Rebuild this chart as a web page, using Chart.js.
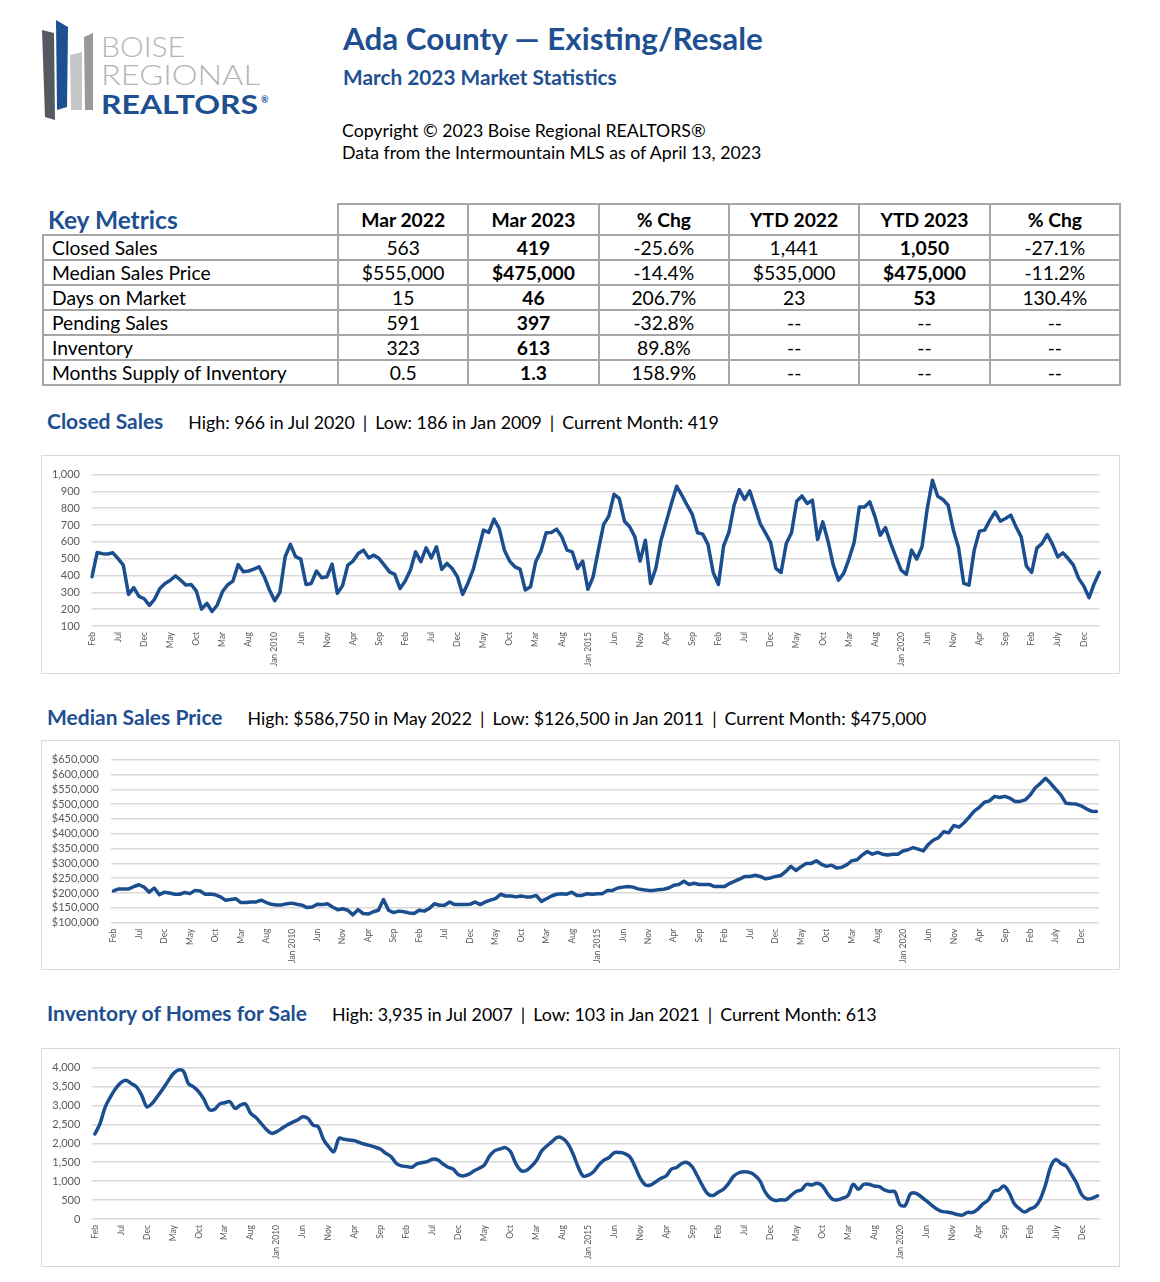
<!DOCTYPE html>
<html>
<head>
<meta charset="utf-8">
<script src="https://cdn.jsdelivr.net/npm/chart.js@4.4.1/dist/chart.umd.min.js"></script>
<style>
  body { margin: 0; width: 1160px; height: 1282px; position: relative; background: #fff; font-family: Lato, 'Open Sans', sans-serif; color: #000; overflow: hidden; }
  .abs { position: absolute; white-space: nowrap; line-height: 1; }
  .title { left: 343px; top: 23px; font-size: 31.4px; font-weight: 700; color: #1d4f91; }
  .subtitle { left: 343px; top: 67px; font-size: 20.8px; font-weight: 700; color: #1d4f91; }
  .note { left: 342px; font-size: 17.7px; }
  .sec { left: 47px; }
  .sec .head { font-size: 21px; font-weight: 700; color: #1d4f91; }
  .sec .stats { font-size: 17.75px; margin-left: 25px; }
  .sec .sep { margin: 0 8px; }
  .box { position: absolute; left: 41px; width: 1079px; border: 1.5px solid #d9d9d9; box-sizing: border-box; }
  canvas { position: absolute; left: 42px; }
  #metrics { position: absolute; left: 42px; top: 203px; border-collapse: collapse; table-layout: fixed; width: 1079px; font-size: 19.3px; }
  #metrics td, #metrics th { border: 2px solid #a6a6a6; padding: 0; text-align: center; white-space: nowrap; }
  #metrics tr.hr { height: 31px; }
  #metrics tr.br { height: 25px; }
  #metrics th { font-weight: 700; }
  #metrics th.km { border-top: hidden; border-left: hidden; text-align: left; padding-left: 5px; font-size: 24.5px; color: #1d4f91; }
  #metrics td.lab { text-align: left; padding-left: 8px; }
  #metrics td.b { font-weight: 700; }
</style>
</head>
<body>

<svg class="abs" style="left:0;top:0" width="300" height="130">
  <polygon points="42,30 54,33 55,120 45,117" fill="#555a60"/>
  <polygon points="56,20 68,27 67,107 57,110" fill="#1d4f91"/>
  <polygon points="70,55 82,52 82,110 71,110" fill="#c4c6c8"/>
  <polygon points="84,37 93,33 93,110 85,110" fill="#97999c"/>
  <text x="101" y="57" font-family="Lato" font-size="27" font-weight="300" fill="#b3b5b7" textLength="84" lengthAdjust="spacingAndGlyphs">BOISE</text>
  <text x="101" y="85" font-family="Lato" font-size="28" font-weight="300" fill="#b3b5b7" textLength="159" lengthAdjust="spacingAndGlyphs">REGIONAL</text>
  <text x="101" y="114" font-family="Lato" font-size="27" font-weight="700" fill="#1d4f91" textLength="157" lengthAdjust="spacingAndGlyphs">REALTORS</text>
  <text x="261" y="103" font-family="Lato" font-size="9" font-weight="700" fill="#1d4f91">®</text>
</svg>

<div class="abs title">Ada County — Existing/Resale</div>
<div class="abs subtitle">March 2023 Market Statistics</div>
<div class="abs note" style="top:122px">Copyright © 2023 Boise Regional REALTORS®</div>
<div class="abs note" style="top:144px">Data from the Intermountain MLS as of April 13, 2023</div>

<table id="metrics">
  <colgroup><col style="width:295px"><col><col><col><col><col><col></colgroup>
  <thead></thead>
  <tbody></tbody>
</table>

<div class="abs sec" style="top:410px"><span class="head">Closed Sales</span><span class="stats">High: 966 in Jul 2020<span class="sep">|</span>Low: 186 in Jan 2009<span class="sep">|</span>Current Month: 419</span></div>
<div class="box" style="top:455px;height:219px"></div>
<canvas id="closedChart" width="1077" height="217" style="top:456px"></canvas>

<div class="abs sec" style="top:706px"><span class="head">Median Sales Price</span><span class="stats">High: $586,750 in May 2022<span class="sep">|</span>Low: $126,500 in Jan 2011<span class="sep">|</span>Current Month: $475,000</span></div>
<div class="box" style="top:740px;height:230px"></div>
<canvas id="priceChart" width="1077" height="228" style="top:741px"></canvas>

<div class="abs sec" style="top:1002px"><span class="head">Inventory of Homes for Sale</span><span class="stats">High: 3,935 in Jul 2007<span class="sep">|</span>Low: 103 in Jan 2021<span class="sep">|</span>Current Month: 613</span></div>
<div class="box" style="top:1048px;height:219px"></div>
<canvas id="invChart" width="1077" height="217" style="top:1049px"></canvas>

<script>
// Tableau des indicateurs
const metricHeaders = ['Key Metrics', 'Mar 2022', 'Mar 2023', '% Chg', 'YTD 2022', 'YTD 2023', '% Chg'];
const metricNames = ['Closed Sales', 'Median Sales Price', 'Days on Market', 'Pending Sales', 'Inventory', 'Months Supply of Inventory'];
const mar2022 = ['563', '$555,000', '15', '591', '323', '0.5'];
const mar2023 = ['419', '$475,000', '46', '397', '613', '1.3'];
const chgMonth = ['-25.6%', '-14.4%', '206.7%', '-32.8%', '89.8%', '158.9%'];
const ytd2022 = ['1,441', '$535,000', '23', '--', '--', '--'];
const ytd2023 = ['1,050', '$475,000', '53', '--', '--', '--'];
const chgYtd = ['-27.1%', '-11.2%', '130.4%', '--', '--', '--'];

// Axe des mois : Feb 2007 -> Mar 2023
const monthNames = ['Jan', 'Feb', 'Mar', 'Apr', 'May', 'Jun', 'Jul', 'Aug', 'Sep', 'Oct', 'Nov', 'Dec'];
const months = [];
for (let y = 2007, m = 1; y < 2023 || m <= 2; m++) {
    if (m === 12) { m = 0; y++; }
    months.push(monthNames[m] + ' ' + y);
}
const tickLabels = ['Feb', 'Jul', 'Dec', 'May', 'Oct', 'Mar', 'Aug', 'Jan 2010', 'Jun', 'Nov',
    'Apr', 'Sep', 'Feb', 'Jul', 'Dec', 'May', 'Oct', 'Mar', 'Aug', 'Jan 2015',
    'Jun', 'Nov', 'Apr', 'Sep', 'Feb', 'Jul', 'Dec', 'May', 'Oct', 'Mar',
    'Aug', 'Jan 2020', 'Jun', 'Nov', 'Apr', 'Sep', 'Feb', 'July', 'Dec'];

const closedSales = [
    393, 537, 530, 528, 535, 500, 462, 288, 328, 276,
    262, 222, 260, 323, 353, 372, 398, 372, 343, 347,
    307, 200, 235, 186, 225, 305, 345, 367, 465, 422,
    427, 438, 452, 393, 314, 250, 300, 512, 585, 512,
    498, 347, 353, 427, 387, 393, 468, 294, 340, 462,
    486, 531, 551, 505, 521, 501, 462, 422, 407, 323,
    367, 433, 541, 482, 565, 505, 571, 436, 472, 442,
    393, 288, 353, 433, 551, 670, 656, 735, 680, 551,
    486, 452, 438, 314, 333, 482, 545, 654, 656, 676,
    630, 551, 541, 442, 486, 318, 393, 551, 703, 753,
    883, 858, 723, 690, 630, 486, 610, 353, 442, 610,
    719, 828, 931, 877, 818, 763, 654, 646, 585, 418,
    347, 577, 656, 818, 911, 852, 903, 808, 709, 654,
    596, 442, 418, 591, 654, 842, 873, 828, 848, 614,
    719, 604, 462, 373, 413, 498, 596, 808, 808, 838,
    749, 640, 685, 591, 511, 432, 407, 551, 498, 571,
    798, 966, 871, 852, 818, 670, 565, 353, 343, 551,
    664, 670, 729, 778, 723, 739, 759, 690, 630, 456,
    418, 563, 591, 644, 585, 511, 535, 501, 462, 383,
    337, 268, 353, 419
];

const medianPrice = [
    207000, 214000, 214000, 214000, 222000, 228000, 220000, 203000, 217000, 194000,
    203000, 200000, 196000, 196000, 202000, 198000, 209000, 207000, 196000, 197000,
    194000, 187000, 176000, 178000, 181000, 168000, 168000, 170000, 170000, 176000,
    168000, 162000, 160000, 160000, 164000, 166000, 162000, 159000, 151000, 153000,
    162000, 161000, 164000, 153000, 144000, 147000, 142000, 126500, 144000, 131000,
    129000, 137000, 142000, 178000, 142000, 134000, 139000, 137000, 133000, 131000,
    142000, 139000, 148000, 164000, 159000, 159000, 170000, 161000, 161000, 161000,
    162000, 170000, 161000, 170000, 176000, 181000, 196000, 190000, 190000, 187000,
    190000, 187000, 187000, 192000, 172000, 181000, 190000, 196000, 198000, 196000,
    203000, 192000, 192000, 198000, 196000, 198000, 198000, 209000, 209000, 217000,
    220000, 222000, 220000, 214000, 211000, 209000, 209000, 211000, 213000, 217000,
    226000, 229000, 240000, 229000, 233000, 229000, 229000, 229000, 222000, 222000,
    222000, 233000, 240000, 248000, 256000, 256000, 260000, 256000, 248000, 251000,
    256000, 259000, 273000, 290000, 276000, 289000, 300000, 300000, 309000, 297000,
    290000, 294000, 284000, 287000, 296000, 309000, 312000, 328000, 340000, 331000,
    337000, 331000, 328000, 331000, 331000, 342000, 346000, 353000, 348000, 342000,
    364000, 379000, 387000, 407000, 403000, 428000, 422000, 437000, 456000, 476000,
    489000, 506000, 511000, 526000, 522000, 526000, 520000, 509000, 509000, 514000,
    531000, 555000, 570000, 586750, 570000, 550000, 531000, 503000, 501000, 500000,
    494000, 484000, 476000, 475000
];

const inventory = [
    2246, 2526, 2965, 3228, 3447, 3605, 3667, 3579, 3491, 3272,
    2965, 3053, 3228, 3421, 3623, 3825, 3935, 3912, 3579, 3491,
    3360, 3158, 2895, 2895, 3035, 3070, 3097, 2921, 3009, 3035,
    2789, 2684, 2526, 2368, 2263, 2307, 2395, 2482, 2553, 2614,
    2702, 2658, 2482, 2439, 2105, 1912, 1781, 2132, 2105, 2088,
    2070, 2018, 1974, 1939, 1895, 1842, 1737, 1649, 1474, 1404,
    1386, 1368, 1456, 1491, 1518, 1579, 1561, 1456, 1368, 1316,
    1167, 1140, 1184, 1272, 1342, 1430, 1667, 1807, 1851, 1886,
    1781, 1474, 1281, 1281, 1386, 1544, 1798, 1930, 2044, 2158,
    2132, 2000, 1737, 1386, 1135, 1161, 1248, 1423, 1554, 1624,
    1755, 1755, 1729, 1641, 1379, 1074, 899, 899, 986, 1074,
    1144, 1318, 1362, 1467, 1493, 1379, 1135, 873, 663, 620,
    707, 786, 943, 1135, 1222, 1248, 1231, 1161, 1013, 725,
    550, 489, 506, 506, 620, 725, 768, 917, 899, 943,
    882, 681, 524, 506, 550, 620, 917, 786, 917, 917,
    873, 856, 768, 725, 725, 376, 358, 663, 681, 594,
    489, 376, 271, 201, 183, 157, 120, 103, 175, 175,
    262, 402, 506, 725, 768, 873, 698, 402, 271, 183,
    262, 323, 524, 899, 1379, 1571, 1467, 1397, 1179, 943,
    637, 533, 550, 613
];

// Construction du tableau
const thead = document.querySelector('#metrics thead');
const tbody = document.querySelector('#metrics tbody');
const hr = document.createElement('tr');
hr.className = 'hr';
metricHeaders.forEach((h, i) => {
    const th = document.createElement('th');
    th.textContent = h;
    if (i === 0) th.className = 'km';
    hr.appendChild(th);
});
thead.appendChild(hr);
metricNames.forEach((name, r) => {
    const tr = document.createElement('tr');
    tr.className = 'br';
    const cells = [name, mar2022[r], mar2023[r], chgMonth[r], ytd2022[r], ytd2023[r], chgYtd[r]];
    cells.forEach((c, i) => {
        const td = document.createElement('td');
        td.textContent = c;
        if (i === 0) td.className = 'lab';
        if ((i === 2 || i === 5) && c !== '--') td.className = 'b';
        tr.appendChild(td);
    });
    tbody.appendChild(tr);
});

// Graphiques
const lineColor = '#1b4e8f';
const gridColor = '#d9d9d9';
const tickColor = '#595959';

function buildChart(id, values, cfg) {
    const ctx = document.getElementById(id).getContext('2d');
    return new Chart(ctx, {
        type: 'line',
        data: {
            labels: months,
            datasets: [{
                data: values,
                borderColor: lineColor,
                borderWidth: 3.5,
                pointRadius: 0,
                tension: cfg.tension,
                fill: false,
                borderJoinStyle: 'round',
                borderCapStyle: 'round'
            }]
        },
        options: {
            responsive: false,
            animation: false,
            layout: { padding: { top: cfg.top, right: cfg.right, left: 0, bottom: 0 } },
            plugins: { legend: { display: false }, tooltip: { enabled: false } },
            scales: {
                x: {
                    offset: cfg.offset,
                    grid: { display: false, drawTicks: false },
                    border: { display: false },
                    ticks: {
                        autoSkip: false,
                        maxRotation: 90,
                        minRotation: 90,
                        padding: 6,
                        color: tickColor,
                        font: { family: 'Lato', size: 8.5 },
                        callback: (v, i) => (i % 5 === 0 ? tickLabels[i / 5] : '')
                    },
                    afterFit: s => { s.height = cfg.xh; }
                },
                y: {
                    min: cfg.min,
                    max: cfg.max,
                    grid: { color: gridColor, lineWidth: 1.5, drawTicks: false },
                    border: { display: false },
                    ticks: {
                        stepSize: cfg.step,
                        autoSkip: false,
                        padding: 12,
                        color: tickColor,
                        font: { family: 'Lato', size: 11 },
                        callback: cfg.fmt
                    },
                    afterFit: s => { s.width = cfg.yw; }
                }
            }
        }
    });
}

document.fonts.ready.then(() => {
    buildChart('closedChart', closedSales, {
        min: 100, max: 1000, step: 100, tension: 0, offset: false,
        top: 18.3, right: 19.5, xh: 47, yw: 50,
        fmt: v => v.toLocaleString('en-US')
    });
    buildChart('priceChart', medianPrice, {
        min: 100000, max: 650000, step: 50000, tension: 0, offset: true,
        top: 16.7, right: 20, xh: 46.3, yw: 69,
        fmt: v => '$' + v.toLocaleString('en-US')
    });
    buildChart('invChart', inventory, {
        min: 0, max: 4000, step: 500, tension: 0.35, offset: true,
        top: 18.3, right: 19, xh: 47, yw: 50.3,
        fmt: v => v.toLocaleString('en-US')
    });
});
</script>
</body>
</html>
